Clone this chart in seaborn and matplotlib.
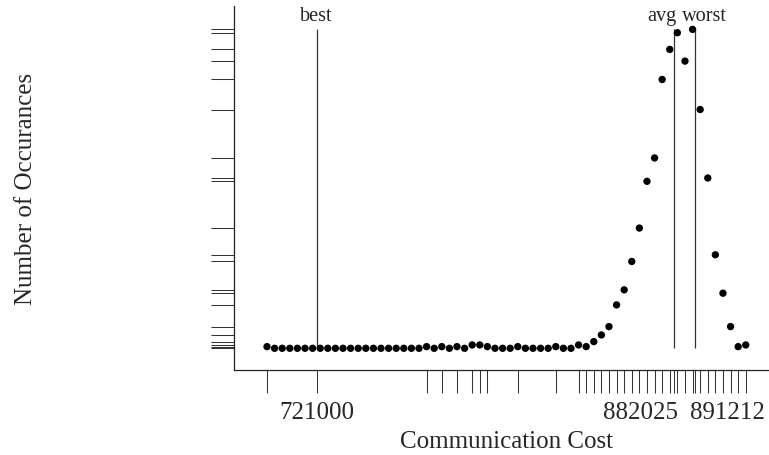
import numpy as np
import pandas as pd
import matplotlib
matplotlib.use('Agg')
import matplotlib.pyplot as plt
import seaborn as sns
from matplotlib.transforms import blended_transform_factory, offset_copy

# histogram of communication cost (bin mids and counts)
bin_mids = [698620, 702042, 705464, 708886, 712308, 715730, 719152, 722574,
            725996, 729418, 732840, 736262, 739684, 743106, 746528, 749950,
            753372, 756794, 760216, 763638, 767060, 770482, 773904, 777326,
            780748, 784170, 787592, 791014, 794436, 797858, 801280, 804702,
            808124, 811546, 814968, 818390, 821812, 825234, 828656, 832078,
            835500, 838922, 842344, 845766, 849188, 852610, 856032, 859454,
            862876, 866298, 869720, 873142, 876564, 879986, 883408, 886830,
            890252, 893674, 897096, 900518, 903940, 907362, 910784, 914206]
counts = [1, 0, 0, 0, 0, 0, 0, 0,
          0, 0, 0, 0, 0, 0, 0, 0,
          0, 0, 0, 0, 0, 1, 0, 1,
          0, 1, 0, 2, 2, 1, 0, 0,
          0, 1, 0, 0, 0, 0, 1, 0,
          0, 2, 1, 4, 8, 13, 26, 35,
          52, 72, 100, 114, 161, 179, 189, 172,
          191, 143, 102, 56, 33, 13, 1, 2]

best_cost = 721000
avg_cost = 882025
worst_cost = 891212
marker_names = ['best', 'avg', 'worst']
marker_costs = [best_cost, avg_cost, worst_cost]

sns.set_style('ticks')
plt.rcParams['font.family'] = ['Liberation Serif', 'DejaVu Serif']

df = pd.DataFrame({'cost': bin_mids, 'count': counts})

fig = plt.figure(figsize=(7.69, 4.55), dpi=100)
ax = fig.add_axes([234/769, 85/455, 535/769, 364/455])

sns.scatterplot(data=df, x='cost', y='count', ax=ax, color='black', s=28,
                edgecolor='none', legend=False, zorder=3)

top = max(counts)
ax.vlines(marker_costs, 0, top, color='#333333', lw=0.9, zorder=2)

# labels above the lines
shifts = [0, -12, 10]
for name, cost, dx in zip(marker_names, marker_costs, shifts):
    tr = offset_copy(ax.transData, fig=fig, x=dx, y=0, units='dots')
    ax.text(cost, top + 5.2, name, transform=tr, ha='center', va='baseline',
            fontsize=14.6)

ax.set_xlim(683760, 924670)
ax.set_ylim(-13.0, 205.0)

# rug-style ticks: non-empty bins on x, distinct counts on y
nonzero = df.loc[df['count'] > 0, 'cost']
ax.set_xticks(nonzero, minor=True)
ax.set_xticks(marker_costs)
ax.set_xticklabels([])
ax.set_yticks(sorted(set(counts)))
ax.set_yticklabels([])
ax.tick_params(which='both', direction='out', length=16.5, width=0.75,
               color='#333333')

# tick labels for best / avg / worst
btr = blended_transform_factory(ax.transData, ax.transAxes)
lab_specs = [(best_cost, 'center', 0), (avg_cost, 'right', 4), (worst_cost, 'left', -5)]
for cost, ha, dx in lab_specs:
    tr = offset_copy(btr, fig=fig, x=dx, y=0, units='dots')
    ax.text(cost, -0.1346, f"{cost}", transform=tr, ha=ha, va='baseline',
            fontsize=18, clip_on=False)

sns.despine(ax=ax)
for sp in ['left', 'bottom']:
    ax.spines[sp].set_linewidth(0.9)
    ax.spines[sp].set_color('#222222')

ax.set_xlabel('Communication Cost', fontsize=18)
ax.xaxis.set_label_coords(0.509, -0.2135)
ax.xaxis.label.set_va('baseline')
ax.set_ylabel('Number of Occurances', fontsize=18)
ax.yaxis.set_label_coords(-0.388, 0.497)
ax.yaxis.label.set_va('center')

plt.savefig('out.png', dpi=100)
